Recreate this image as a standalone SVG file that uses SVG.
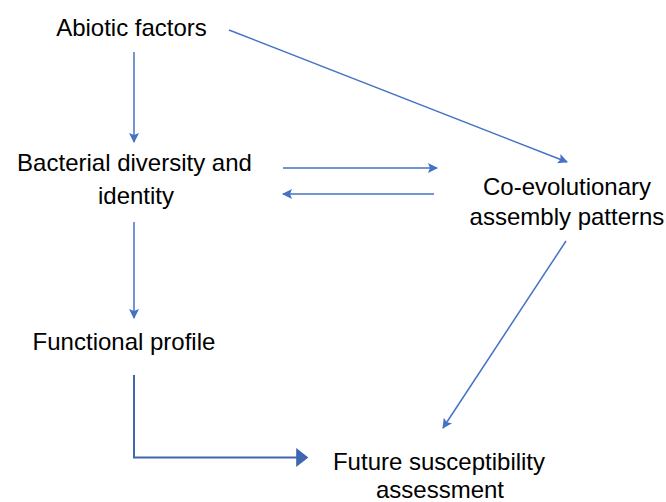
<svg xmlns="http://www.w3.org/2000/svg" width="666" height="502" viewBox="0 0 666 502">
<style>
text{font-family:"Liberation Sans",Arial,sans-serif;font-size:24px;fill:#000;text-anchor:middle}
.c{stroke:#4472C4;stroke-width:1.5;fill:none}
.t{stroke:#3F66B0;stroke-width:2;fill:none}
</style>
<defs>
<marker id="a" viewBox="0 0 10 10" refX="9" refY="5" markerWidth="10" markerHeight="10" markerUnits="userSpaceOnUse" orient="auto"><path d="M0,0L10,5L0,10L2,5z" fill="#4472C4"/></marker>
<marker id="b" viewBox="0 0 10 10" refX="9" refY="5" markerWidth="12" markerHeight="19" markerUnits="userSpaceOnUse" orient="auto" preserveAspectRatio="none"><path d="M0,0L10,5L0,10z" fill="#3F66B0"/></marker>
</defs>
<rect width="666" height="502" fill="#fff"/>
<g id="connectors">
<line class="c" x1="134" y1="52" x2="134" y2="142" marker-end="url(#a)"/>
<line class="c" x1="229" y1="30" x2="567" y2="162" marker-end="url(#a)"/>
<line class="c" x1="283" y1="168" x2="437" y2="168" marker-end="url(#a)"/>
<line class="c" x1="434" y1="194" x2="283" y2="194" marker-end="url(#a)"/>
<line class="c" x1="134" y1="222" x2="134" y2="318" marker-end="url(#a)"/>
<line class="c" x1="566" y1="241" x2="443" y2="428" marker-end="url(#a)"/>
<polyline class="t" points="134,375 134,457.5 307,457.5" marker-end="url(#b)"/>
</g>
<g id="abiotic"><text x="131.5" y="36">Abiotic factors</text></g>
<g id="bacterial"><text x="134.5" y="171">Bacterial diversity and</text><text x="136" y="204">identity</text></g>
<g id="coevo"><text x="567" y="195">Co-evolutionary</text><text x="567" y="225">assembly patterns</text></g>
<g id="functional"><text x="124" y="350">Functional profile</text></g>
<g id="future"><text x="439" y="470">Future susceptibility</text><text x="440" y="498">assessment</text></g>
</svg>
